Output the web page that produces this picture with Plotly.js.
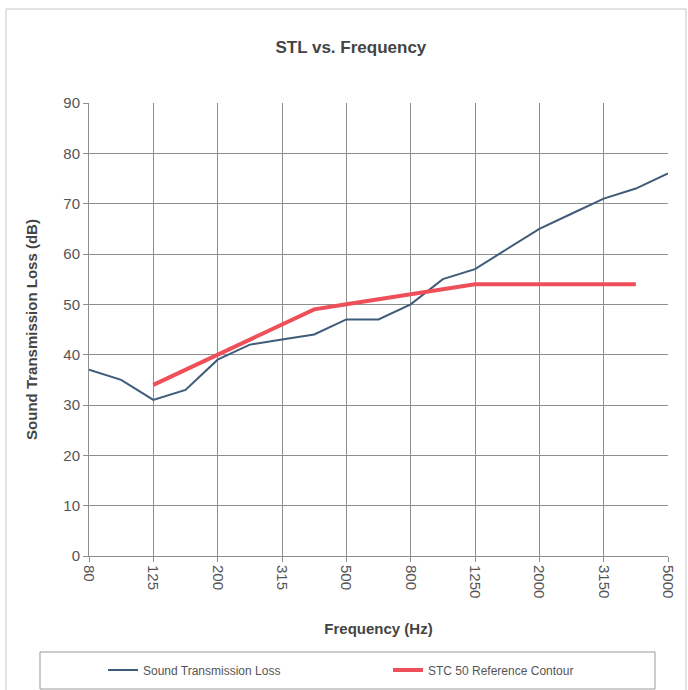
<!DOCTYPE html>
<html>
<head>
<meta charset="utf-8">
<script src="https://cdn.plot.ly/plotly-3.0.1.min.js"></script>
<style>html,body{margin:0;padding:0;background:#fff;}#chart{width:688px;height:690px;}</style>
</head>
<body>
<div id="chart"></div>
<script>
// One-third octave band centre frequencies (Hz)
const freqs = ["80","100","125","160","200","250","315","400","500","630","800","1000","1250","1600","2000","2500","3150","4000","5000"];
// Measured sound transmission loss (dB)
const stl = [37,35,31,33,39,42,43,44,47,47,50,55,57,61,65,68,71,73,76];
// STC 50 reference contour bands and values (dB)
const stcFreqs = ["125","160","200","250","315","400","500","630","800","1000","1250","1600","2000","2500","3150","4000"];
const stc = [34,37,40,43,46,49,50,51,52,53,54,54,54,54,54,54];
// Labelled ticks
const tickLabels = ["80","125","200","315","500","800","1250","2000","3150","5000"];
const yTicks = [0,10,20,30,40,50,60,70,80,90];

const font = "Liberation Sans, Arial, sans-serif";
const traces = [
  {x: freqs, y: stl, type: "scatter", mode: "lines", name: "Sound Transmission Loss",
   line: {color: "#3e5b7a", width: 2}},
  {x: stcFreqs, y: stc, type: "scatter", mode: "lines", name: "STC 50 Reference Contour",
   line: {color: "#ee4f59", width: 4}}
];
const layout = {
  width: 688, height: 690,
  margin: {l: 89, r: 20, t: 103, b: 134},
  paper_bgcolor: "#ffffff", plot_bgcolor: "#ffffff",
  font: {family: font, color: "#555", size: 14},
  title: {text: "<b>STL vs. Frequency</b>", font: {family: font, size: 17, color: "#444"},
          x: 0.51, xanchor: "center", yref: "container", y: 0.932, yanchor: "middle"},
  xaxis: {type: "category", categoryarray: freqs, range: [0, 18], automargin: false,
          tickmode: "array", tickvals: tickLabels, ticktext: tickLabels, tickangle: 90,
          showgrid: true, gridcolor: "#8d918d", gridwidth: 1,
          showline: true, linecolor: "#8d918d", linewidth: 1,
          ticks: "outside", ticklen: 5, tickcolor: "#8d918d",
          tickfont: {family: font, size: 15, color: "#555"},
          zeroline: false,
          title: {text: "<b>Frequency (Hz)</b>", font: {family: font, size: 15, color: "#444"}, standoff: 26}},
  yaxis: {range: [0, 90], tickmode: "array", tickvals: yTicks, automargin: false,
          showgrid: true, gridcolor: "#8d918d", gridwidth: 1,
          showline: true, linecolor: "#8d918d", linewidth: 1,
          ticks: "outside", ticklen: 5, tickcolor: "#8d918d",
          tickfont: {family: font, size: 15, color: "#555"},
          zeroline: false,
          title: {text: "<b>Sound Transmission Loss (dB)</b>", font: {family: font, size: 15, color: "#444"}, standoff: 22}},
  showlegend: true,
  legend: {orientation: "h", xref: "container", x: 103/688, xanchor: "left",
           yref: "container", y: 1 - 670/690, yanchor: "middle",
           bgcolor: "rgba(0,0,0,0)", borderwidth: 0,
           entrywidth: 240, entrywidthmode: "pixels",
           font: {family: font, size: 12, color: "#555"}},
  shapes: [
    {type: "rect", xref: "paper", yref: "paper",
     x0: (40-89)/579, x1: (655-89)/579, y0: (556-652)/453, y1: (556-689)/453,
     line: {color: "#999", width: 1}},
    {type: "rect", xref: "paper", yref: "paper",
     x0: (6-89)/579, x1: (686-89)/579, y0: (556-9)/453, y1: (556-692)/453,
     line: {color: "#c8c8c8", width: 1}}
  ]
};
Plotly.newPlot("chart", traces, layout, {displayModeBar: false, staticPlot: true});
</script>
</body>
</html>
